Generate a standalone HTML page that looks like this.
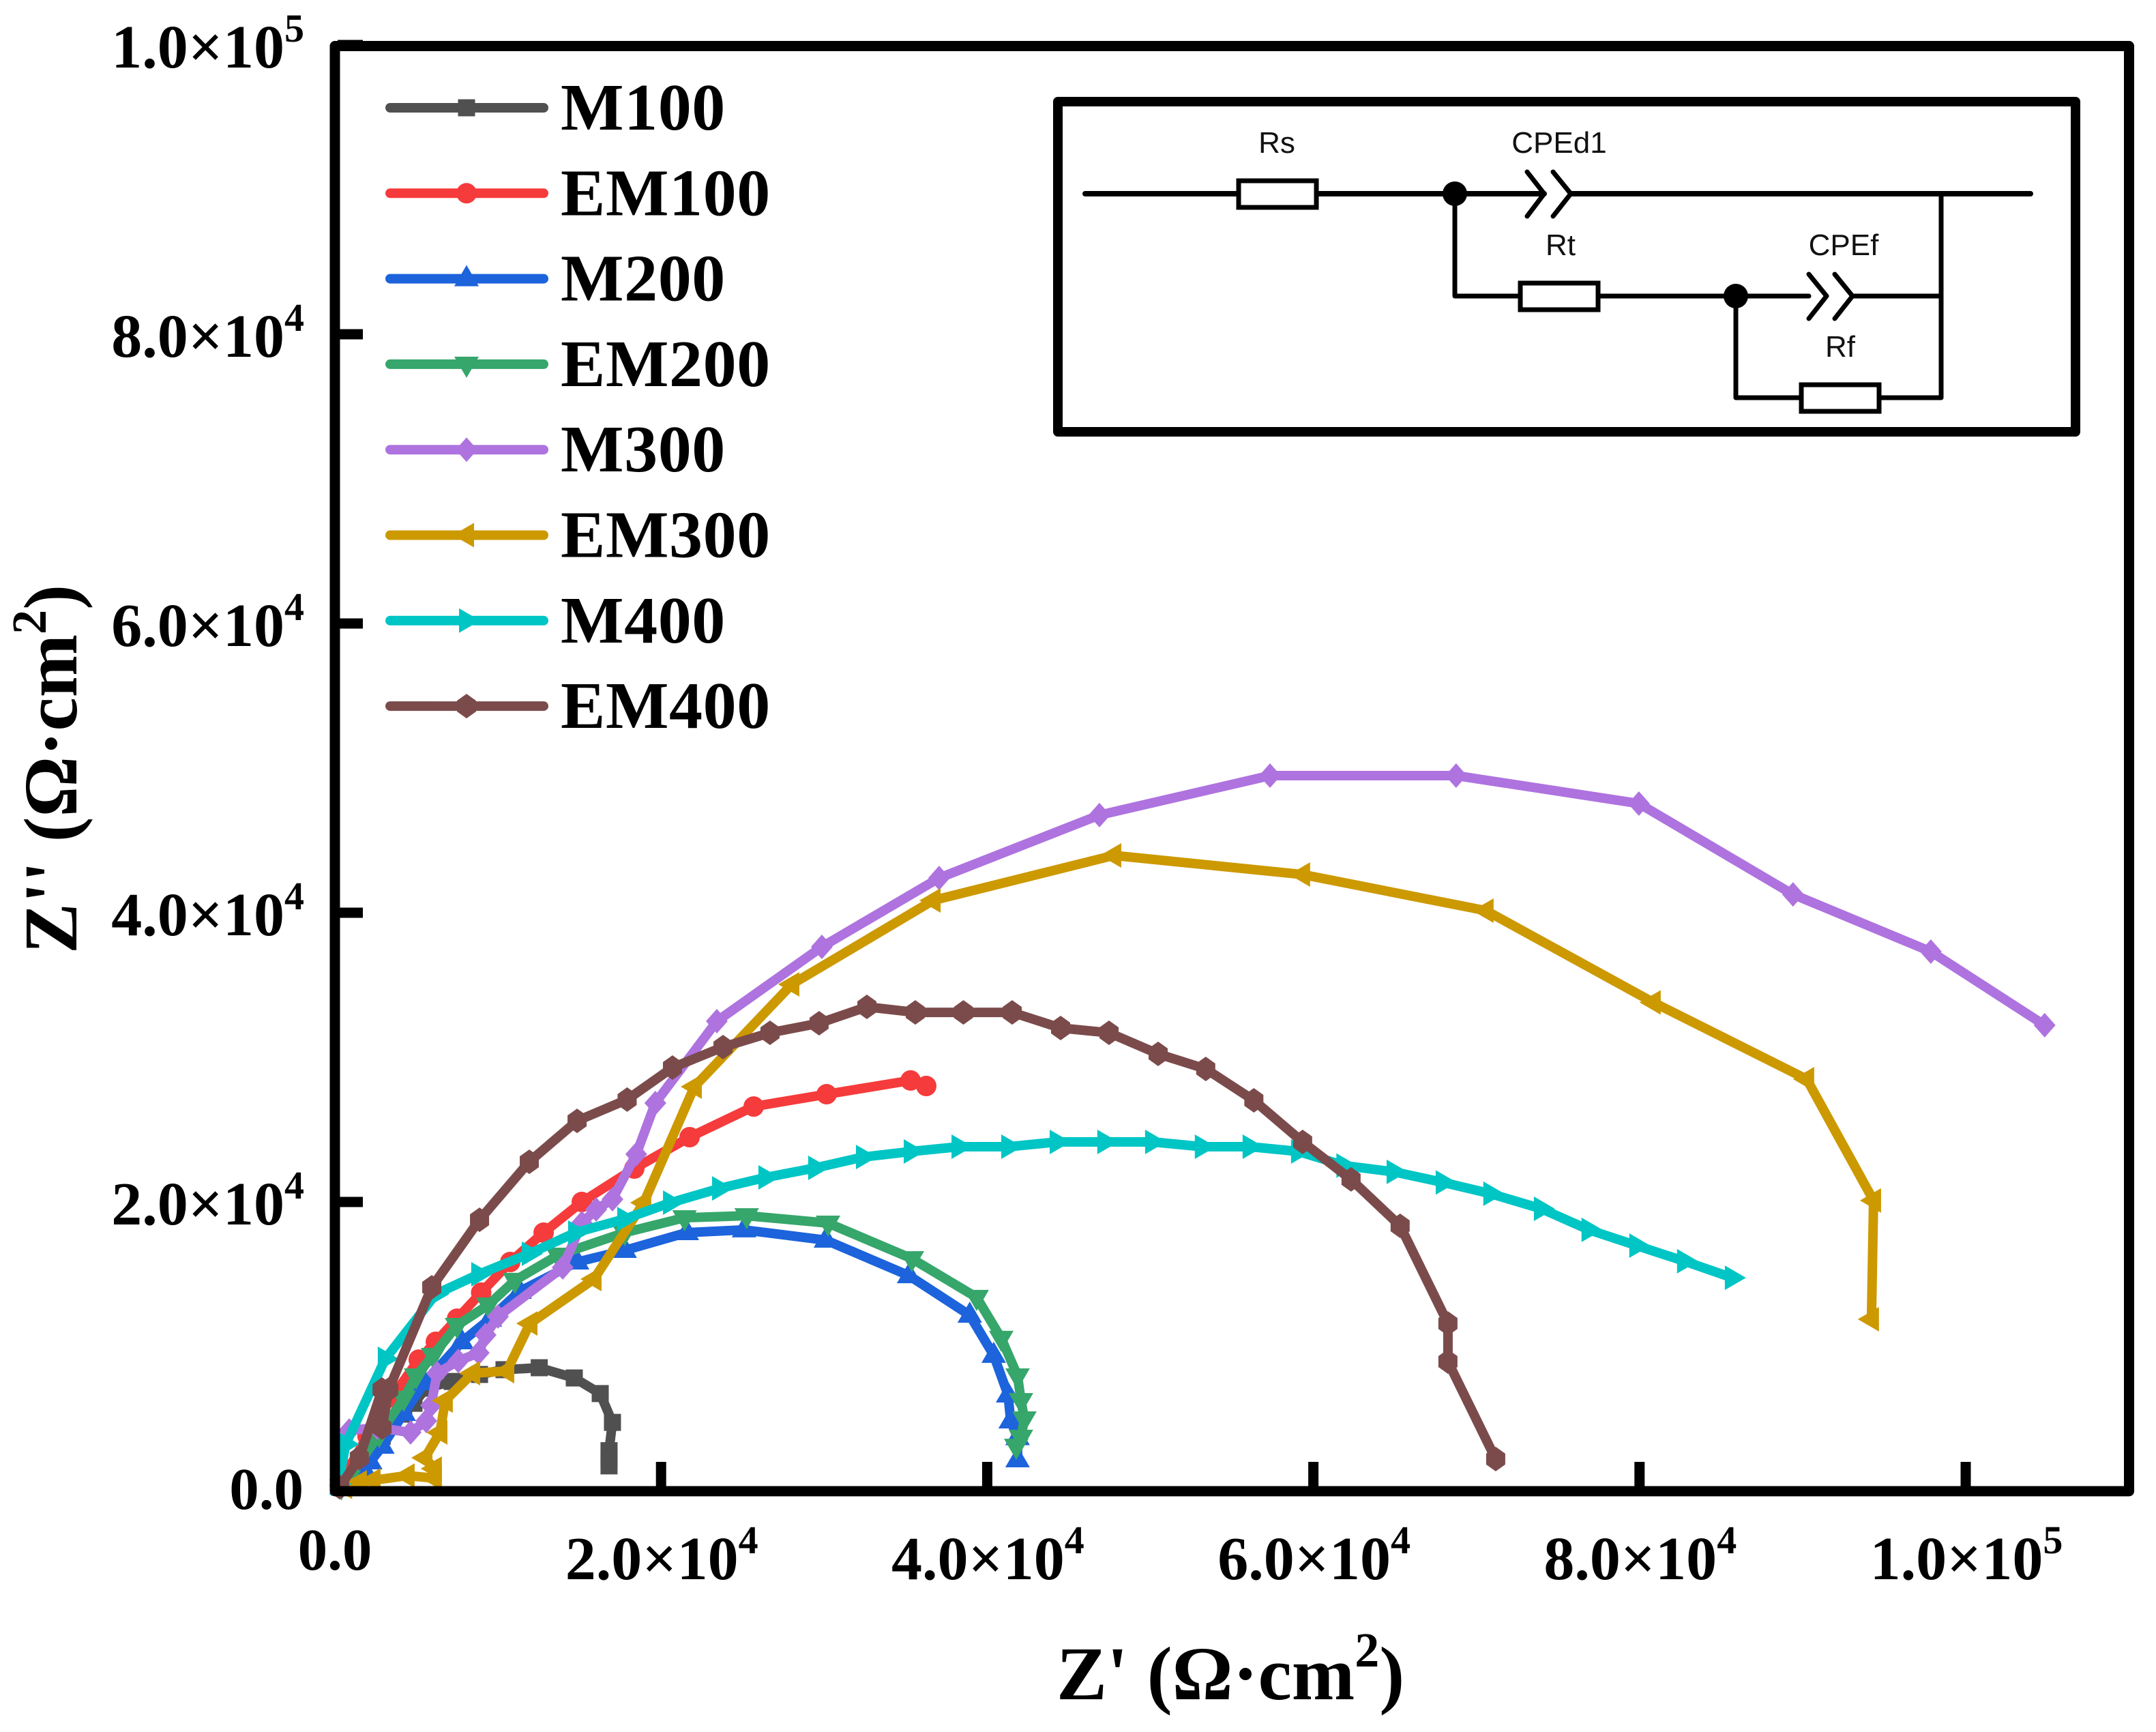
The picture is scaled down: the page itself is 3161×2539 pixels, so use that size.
<!DOCTYPE html>
<html lang="en">
<head>
<meta charset="utf-8">
<title>Nyquist plot of M and EM samples</title>
<style>
html,body{margin:0;padding:0;background:#fff;}
svg{display:block;}
.tick{font-family:"Liberation Serif",serif;font-weight:bold;font-size:90px;fill:#000;}
.title{font-family:"Liberation Serif",serif;font-weight:bold;font-size:111px;fill:#000;}
.leg{font-family:"Liberation Serif",serif;font-weight:bold;font-size:98px;letter-spacing:0.6px;fill:#000;}
.cir{font-family:"Liberation Sans",sans-serif;font-size:44px;fill:#111;text-anchor:middle;}
</style>
</head>
<body>
<svg id="chart" xmlns="http://www.w3.org/2000/svg" width="3161" height="2539" viewBox="0 0 3161 2539">
<rect width="3161" height="2539" fill="#fff"/>
<g id="series-layer"></g>
<g id="axes-layer"></g>
<g id="legend-layer"></g>
<text class="title" x="1549" y="2491">Z' (Ω·cm<tspan font-size="72" dy="-48">2</tspan><tspan dy="48">)</tspan></text>
<text class="title" transform="translate(112,1398) rotate(-90)">Z'' (Ω·cm<tspan font-size="72" dy="-45">2</tspan><tspan dy="45">)</tspan></text>
<g>
  <rect x="1551" y="149" width="1492" height="484" fill="#fff" stroke="#000" stroke-width="14" stroke-linejoin="round"/>
  <g fill="none" stroke="#000" stroke-linecap="round" stroke-linejoin="round">
    <path d="M1591 284H2264M2303 284H2977" stroke-width="8"/>
    <path d="M2133 284V434H2652M2716 434H2846" stroke-width="7"/>
    <path d="M2846 284V583H2545V434" stroke-width="7"/>
    <path d="M2239 252L2264 284L2239 317M2277 252L2303 284L2277 317" stroke-width="7"/>
    <path d="M2652 402L2678 434L2652 467M2690 402L2716 434L2690 467" stroke-width="7"/>
  </g>
  <rect x="1816" y="265" width="114" height="39" fill="#fff" stroke="#000" stroke-width="7"/>
  <rect x="2229" y="415" width="114" height="39" fill="#fff" stroke="#000" stroke-width="7"/>
  <rect x="2641" y="564" width="114" height="39" fill="#fff" stroke="#000" stroke-width="7"/>
  <circle cx="2133" cy="284" r="18" fill="#000"/>
  <circle cx="2545" cy="434" r="18" fill="#000"/>
  <text class="cir" x="1872" y="224">Rs</text>
  <text class="cir" x="2286" y="224">CPEd1</text>
  <text class="cir" x="2288" y="374">Rt</text>
  <text class="cir" x="2703" y="374">CPEf</text>
  <text class="cir" x="2698" y="523">Rf</text>
</g>
</svg>
<script>
// Data (Z' and Z'' in ohm·cm²)
const m100X=[400,1500,2900,4220,4850,5600,7190,8870,10370,12530,14680,16270,17020,16810,16810,16810];
const m100Y=[500,2000,3800,5330,6080,7120,7590,8070,8400,8540,7830,6750,4760,2800,2300,1750];
const em100X=[300,800,2000,3500,5140,6190,7490,8970,10750,12800,15140,18360,21750,25680,30150,35300,36260];
const em100Y=[400,1500,3800,6500,9100,10330,11930,13730,15850,17880,20000,22310,24480,26600,27450,28400,28020];
const m200X=[400,1000,1880,2170,2910,4220,5500,7780,9500,11330,14850,17770,21580,25090,30110,35210,38930,40400,41280,41440,41860,41860];
const m200Y=[300,800,1320,2030,3110,5380,7500,10330,11900,13820,15850,16650,17880,18070,17360,14900,12170,9390,6650,4860,3700,2170];
const em200X=[400,840,2720,4220,4980,6020,7490,9410,11040,13680,17770,21440,25250,30240,35380,39350,40860,41860,42070,42280,42070,41780];
const em200Y=[300,900,3920,6420,7970,9390,11460,12880,14580,16320,17880,18910,19050,18540,16080,13400,10570,7970,6270,5000,3730,3110];
const m300X=[880,2600,4640,5600,5900,6270,7570,8820,9240,10000,13970,15140,16020,17020,18480,19650,23420,29860,37050,46880,57340,68750,79960,89410,97860,104840];
const m300Y=[4200,4400,4060,4860,5940,8160,9010,9570,10800,12080,15470,18540,19480,20190,23300,26840,32500,37640,42400,46750,49480,49480,47550,41270,37310,32220];
const em300X=[600,1500,2340,4430,6100,6100,5520,6440,6770,8450,10540,11960,15890,18940,22040,28020,36680,47760,59340,70590,80840,90250,94350,94220];
const em300Y=[300,610,750,1080,900,1560,2310,4060,6270,8160,8300,11600,14670,19950,27970,35050,40850,43960,42640,40140,33800,28490,20100,11890];
const m400X=[200,670,3090,6190,8820,11920,14760,17770,20580,23590,26430,29480,32410,35340,38270,41320,44290,47210,50140,53190,56120,59090,61870,64950,67960,70880,73980,76900,79830,82760,85690];
const m400Y=[500,3250,9150,13630,15000,16420,17880,18820,19950,20940,21700,22360,23110,23490,23820,23820,24150,24150,24150,23820,23820,23490,22520,22080,21350,20570,19530,18070,16980,15900,14760];
const em400X=[290,1500,2890,2890,3300,5940,8870,11920,14850,17920,20700,23800,26680,29690,32620,35590,38540,41530,44500,47470,50480,53400,56350,59340,62310,65320,68250,68250,71180];
const em400Y=[280,2300,7030,4390,7030,14100,18770,22780,25610,27080,29290,30710,31700,32360,33490,33110,33110,33110,32030,31700,30240,29200,27030,24150,21560,18350,11600,8960,2220];

const seriesNames=['M100','EM100','M200','EM200','M300','EM300','M400','EM400'];
const seriesXs=[m100X,em100X,m200X,em200X,m300X,em300X,m400X,em400X];
const seriesYs=[m100Y,em100Y,m200Y,em200Y,m300Y,em300Y,m400Y,em400Y];
const seriesColors=['#505050','#F53B3B','#1C63DC','#36A66B','#AE73DF','#CC9900','#00C5C5','#7B4B4B'];
const seriesMarkers=['square','circle','up','down','diamond','left','right','hex'];

const xTickValues=[2e4,4e4,6e4,8e4,1e5];
const xTickBases=['2.0×10','4.0×10','6.0×10','8.0×10','1.0×10'];
const xTickExps=['4','4','4','4','5'];
const yTickValues=[2e4,4e4,6e4,8e4,1e5];
const yTickBases=['2.0×10','4.0×10','6.0×10','8.0×10','1.0×10'];
const yTickExps=['4','4','4','4','5'];

const NS='http://www.w3.org/2000/svg';
function xScale(v){return 491+v*478.2/2e4;}
function yScale(v){return 2186-v*424/2e4;}
function mk(tag,attrs,parent){
  const el=document.createElementNS(NS,tag);
  for(const k in attrs){el.setAttribute(k,attrs[k]);}
  parent.appendChild(el);
  return el;
}
function markerPath(type,x,y){
  const p=(a)=>'M'+a.map(q=>(x+q[0])+' '+(y+q[1])).join('L')+'Z';
  if(type==='square')return p([[-12.5,-12.5],[12.5,-12.5],[12.5,12.5],[-12.5,12.5]]);
  if(type==='up')return p([[0,-20],[18,11],[-18,11]]);
  if(type==='down')return p([[0,20],[18,-11],[-18,-11]]);
  if(type==='left')return p([[-20,0],[11,-18],[11,18]]);
  if(type==='right')return p([[20,0],[-11,-18],[-11,18]]);
  if(type==='diamond')return p([[0,-18],[16,0],[0,18],[-16,0]]);
  if(type==='hex')return p([[0,-18],[14,-8],[14,8],[0,18],[-14,8],[-14,-8]]);
  return 'M'+(x-15)+' '+y+'a15 15 0 1 0 30 0a15 15 0 1 0 -30 0Z';
}

const seriesLayer=document.getElementById('series-layer');
seriesNames.forEach(function(name,i){
  const g=mk('g',{},seriesLayer);
  
  
  const xs=seriesXs[i], ys=seriesYs[i];
  const pts=xs.map(function(v,j){return xScale(v).toFixed(1)+','+yScale(ys[j]).toFixed(1);}).join(' ');
  const line=mk('polyline',{points:pts,fill:'none',stroke:seriesColors[i],'stroke-width':14,'stroke-linejoin':'round','stroke-linecap':'round'},g);
  
  
  xs.forEach(function(v,j){
    const m=mk('path',{d:markerPath(seriesMarkers[i],xScale(v),yScale(ys[j])),fill:seriesColors[i]},g);
    
    
  });
});

const axes=document.getElementById('axes-layer');
const frame=mk('rect',{x:491,y:67.5,width:2630.5,height:2118.5,fill:'none',stroke:'#000','stroke-width':15,'stroke-linejoin':'round'},axes);



xTickValues.forEach(function(v,i){
  const t=mk('rect',{x:xScale(v)-7.5,y:2143,width:15,height:40,fill:'#000'},axes);
  
  
  const lab=mk('text',{class:'tick',x:xScale(v)+1,y:2315,'text-anchor':'middle'},axes);
  
  
  lab.textContent=xTickBases[i];
  const s=mk('tspan',{'font-size':58,dy:-38},lab);
  s.textContent=xTickExps[i];
});
yTickValues.forEach(function(v,i){
  const t=mk('rect',{x:495,y:yScale(v)-7.5,width:37,height:15,fill:'#000'},axes);
  
  
  const lab=mk('text',{class:'tick',x:446,y:yScale(v)+33,'text-anchor':'end'},axes);
  
  
  lab.textContent=yTickBases[i];
  const s=mk('tspan',{'font-size':58,dy:-38},lab);
  s.textContent=yTickExps[i];
});
const xZero=mk('text',{class:'tick',x:491,y:2301,'text-anchor':'middle',style:'font-size:87px'},axes);


xZero.textContent='0.0';
const yZero=mk('text',{class:'tick',x:445,y:2212,'text-anchor':'end',style:'font-size:87px'},axes);


yZero.textContent='0.0';

const legend=document.getElementById('legend-layer');
seriesNames.forEach(function(name,i){
  const y=158+i*125.3;
  const g=mk('g',{},legend);
  
  
  const l=mk('line',{x1:572,x2:797,y1:y,y2:y,stroke:seriesColors[i],'stroke-width':14,'stroke-linecap':'round'},g);
  
  
  const m=mk('path',{d:markerPath(seriesMarkers[i],684,y),fill:seriesColors[i]},g);
  
  
  const t=mk('text',{class:'leg',x:822,y:y+32},g);
  
  
  t.textContent=name;
});
</script>
</body>
</html>
